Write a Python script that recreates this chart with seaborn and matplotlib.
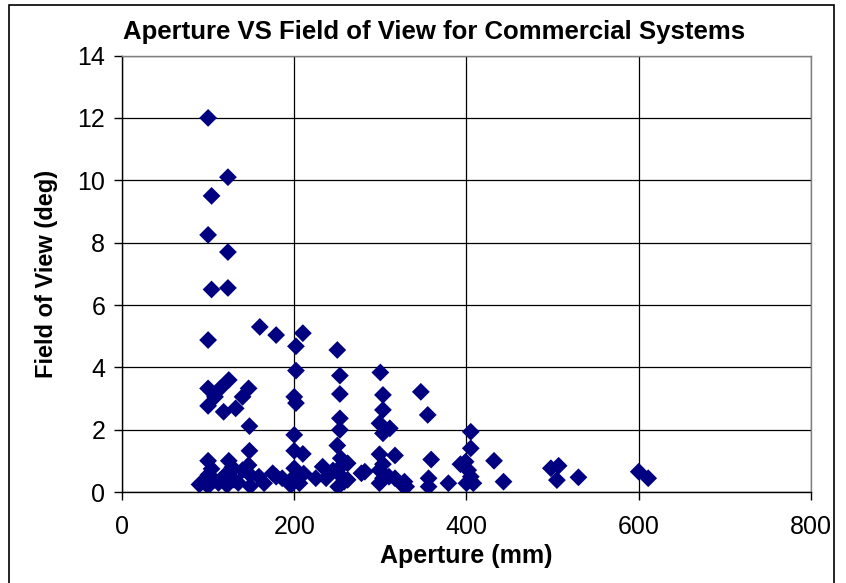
import matplotlib
matplotlib.use("Agg")
import matplotlib.pyplot as plt
import seaborn as sns
import pandas as pd
from matplotlib.patches import Rectangle

# Aperture (mm) and field of view (deg)
aperture = [
    100, 123, 104, 100, 123, 104, 123,
    100, 160, 179, 210, 202, 250,
    202, 253, 300, 253, 200, 202, 303, 303, 347, 355,
    100, 108, 100, 114, 124, 118, 132, 147, 140, 148,
    200, 253, 253, 299, 303, 311, 405, 405,
    148, 200, 210, 250, 254, 262, 299, 317, 359, 399, 432,
    100, 124, 147,
    95, 100, 107, 124, 122, 130, 140, 149, 149, 159, 165, 175, 100, 112, 118, 135, 128, 104, 90,
    179, 186, 200, 200, 206, 196, 233, 225, 237, 251, 251, 258, 278, 255, 245, 262, 211,
    282, 299, 299, 317, 328, 356, 356, 379, 303, 310, 303, 325, 330,
    402, 400, 408, 405, 443, 498, 507, 505, 530, 600, 611, 393,
]
fov = [
    12.0, 10.1, 9.5, 8.25, 7.7, 6.5, 6.55,
    4.88, 5.3, 5.04, 5.1, 4.68, 4.56,
    3.9, 3.74, 3.84, 3.15, 3.06, 2.86, 3.12, 2.64, 3.22, 2.48,
    3.33, 3.06, 2.77, 3.33, 3.6, 2.58, 2.69, 3.33, 3.06, 2.12,
    1.84, 2.37, 2.0, 2.21, 1.89, 2.05, 1.94, 1.41,
    1.33, 1.33, 1.23, 1.5, 1.09, 0.93, 1.22, 1.18, 1.05, 0.98, 1.01,
    1.01, 1.01, 0.87,
    0.34, 0.55, 0.4, 0.62, 0.23, 0.4, 0.71, 0.55, 0.2, 0.5, 0.29, 0.61, 0.2, 0.3, 0.5, 0.3, 0.8, 0.75, 0.25,
    0.5, 0.45, 0.77, 0.5, 0.29, 0.23, 0.82, 0.45, 0.45, 0.61, 0.18, 0.34, 0.61, 0.85, 0.7, 0.4, 0.6,
    0.66, 0.71, 0.29, 0.45, 0.34, 0.45, 0.18, 0.29, 0.9, 0.5, 0.45, 0.25, 0.18,
    0.71, 0.29, 0.29, 0.5, 0.34, 0.77, 0.85, 0.39, 0.48, 0.66, 0.45, 0.9,
]
x_ticks = [0, 200, 400, 600, 800]
y_ticks = [0, 2, 4, 6, 8, 10, 12, 14]

df = pd.DataFrame({"Aperture": aperture, "FOV": fov})

sns.set_style("white")
plt.rcParams["font.family"] = ["Liberation Sans", "DejaVu Sans"]
plt.rcParams["text.color"] = "black"
plt.rcParams["axes.labelcolor"] = "black"
plt.rcParams["xtick.color"] = "black"
plt.rcParams["ytick.color"] = "black"

fig = plt.figure(figsize=(8.46, 5.83), dpi=100)
ax = fig.add_axes([0.1442, 0.1556, 0.8144, 0.7492])

sns.scatterplot(data=df, x="Aperture", y="FOV", ax=ax, marker="D",
                color="#000080", s=82, edgecolor="none", linewidth=0, zorder=3)

ax.set_xlim(0, 800)
ax.set_ylim(0, 14)
ax.set_xticks(x_ticks)
ax.set_yticks(y_ticks)
ax.grid(True, color="black", linewidth=0.9)
ax.set_axisbelow(True)
ax.tick_params(axis="both", labelsize=18, direction="out", length=6,
               width=1, color="black", labelcolor="black", left=True, bottom=True)
ax.tick_params(axis="x", pad=10)
ax.tick_params(axis="y", pad=6)

for side in ["left", "bottom"]:
    ax.spines[side].set_color("black")
    ax.spines[side].set_linewidth(1)
for side in ["top", "right"]:
    ax.spines[side].set_visible(True)
    ax.spines[side].set_color("#808080")
    ax.spines[side].set_linewidth(1)

ax.set_xlabel("Aperture (mm)", fontsize=18, fontweight="bold", labelpad=4, color="black")
ax.set_ylabel("Field of View (deg)", fontsize=17, fontweight="bold", labelpad=14, color="black")

fig.text(434 / 846, 1 - 32 / 583, "Aperture VS Field of View for Commercial Systems",
         ha="center", va="center", fontsize=18.5, fontweight="bold", color="black")

# chart area border
fig.patches.append(Rectangle((9 / 846, -0.02), 825 / 846, 1.02 - 5 / 583,
                             transform=fig.transFigure, fill=False,
                             edgecolor="black", linewidth=1.2))

fig.savefig("out.png", dpi=100)
